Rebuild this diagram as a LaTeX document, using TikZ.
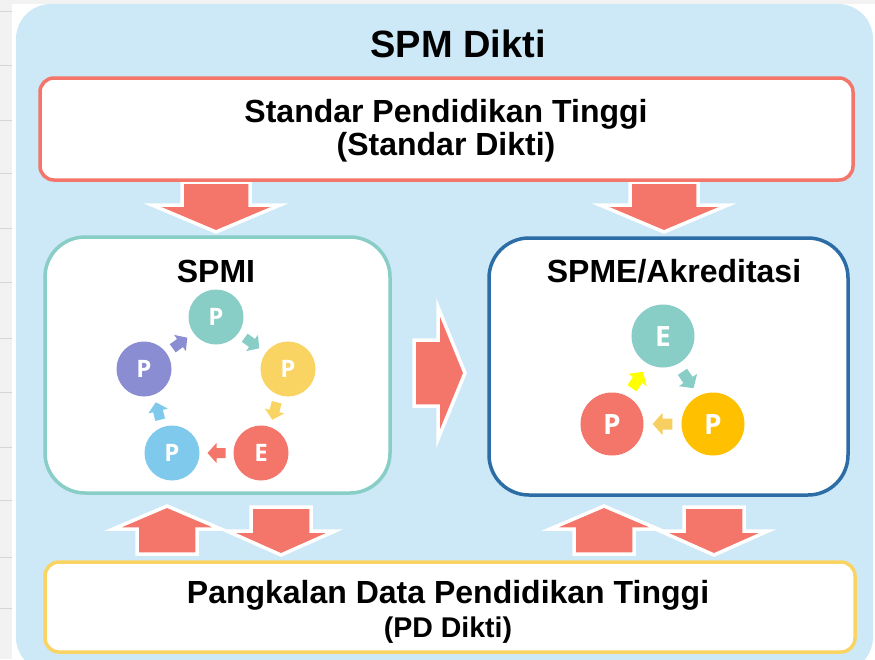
\documentclass[tikz,border=0pt]{standalone}
\usepackage{fontspec}
\setmainfont{Liberation Sans}
\newfontfamily\circfont{Open Sans}
\usetikzlibrary{calc}
\definecolor{salmon}{HTML}{F4756A}
\definecolor{tealc}{HTML}{88CDC6}
\definecolor{yellowc}{HTML}{F9D463}
\definecolor{lbluec}{HTML}{7FC9EC}
\definecolor{purplec}{HTML}{8A8DD1}
\definecolor{orangec}{HTML}{FFC000}
\definecolor{darkbluec}{HTML}{2D6DA6}
\definecolor{bgblue}{HTML}{CDE8F6}
\definecolor{lorangec}{HTML}{F7CF60}
\definecolor{brightyellow}{HTML}{FFFF00}
\definecolor{pagegray}{HTML}{F2F2F2}
\definecolor{stripgray}{HTML}{D6D6D6}
\begin{document}
\begin{tikzpicture}[x=1pt,y=-1pt,
  box/.style={rectangle, fill=white, line width=3.5, inner sep=0},
  maintext/.style={anchor=base, inner sep=0, font=\bfseries\fontsize{32}{38}\selectfont},
  titletext/.style={anchor=base, inner sep=0, font=\bfseries\fontsize{38}{44}\selectfont},
  subtext/.style={anchor=base, inner sep=0, font=\bfseries\fontsize{28.5}{34}\selectfont},
  circ/.style={circle, inner sep=0, minimum size=55, text=white, font=\circfont\bfseries\fontsize{24}{24}\selectfont},
  bigcirc/.style={circ, minimum size=63, font=\circfont\bfseries\fontsize{28}{28}\selectfont},
  barrow/.style={fill=salmon, draw=white, line width=3.5, line join=miter},
  stripline/.style={stripgray, line width=1},
  pics/barr/.style n args={4}{code={
    \draw[barrow] (0,-#2) -- ({#1-#4},-#2) -- ({#1-#4},-#3) -- (#1,0)
      -- ({#1-#4},#3) -- ({#1-#4},#2) -- (0,#2) -- cycle;}},
  pics/smarr/.style={code={
    \fill[#1] (-9,-5) -- (0,-5) -- (0,-10) -- (9,0) -- (0,10) -- (0,5) -- (-9,5) -- cycle;}}
]
\useasboundingbox (0,0) rectangle (875,659);
% page background
\fill[pagegray] (0,0) rectangle (875,659);
\fill[white] (12,4) rectangle (875,659);
\foreach \yy in {11,65,120,173,228,282,338,392,447,500,557,608}
  \draw[stripline] (0,\yy) -- (12,\yy);
\begin{scope}
  \clip (0,0) rectangle (875,659);
  \fill[bgblue, rounded corners=35] (16,4) rectangle (873,672);
\end{scope}

% big block arrows (drawn under the boxes)
\pic[rotate=-90] at (216,182) {barr={50}{34}{64}{27}};
\pic[rotate=-90] at (664,182) {barr={50}{34}{64}{27}};
\pic at (414,373) {barr={51}{33}{66}{27}};
\pic[rotate=90] at (167,554) {barr={48}{30}{54}{23}};
\pic[rotate=-90] at (281,507) {barr={48}{30}{54}{24}};
\pic[rotate=90] at (604,554) {barr={48}{30}{54}{23}};
\pic[rotate=-90] at (714,507) {barr={48}{30}{54}{24}};

% title
\node[titletext] (title) at (458,57) {SPM Dikti};

% Standar Dikti box
\node[box, draw=salmon, rounded corners=14, minimum width=813, minimum height=102] (std) at (446.5,129) {};
\node[maintext] (std1) at (446,122) {Standar Pendidikan Tinggi};
\node[maintext] (std2) at (446,155) {(Standar Dikti)};

% SPMI box
\node[box, draw=tealc, rounded corners=40, minimum width=345, minimum height=256] (spmi) at (217.5,365) {};
\node[maintext] (spmit) at (216,282) {SPMI};
\node[circ, fill=tealc] (a1) at (216,317) {P};
\node[circ, fill=yellowc] (a2) at (288,369) {P};
\node[circ, fill=salmon] (a3) at (261,453) {E};
\node[circ, fill=lbluec] (a4) at (172,453) {P};
\node[circ, fill=purplec] (a5) at (144,369) {P};
\pic[rotate=-36] at ($(a1)!0.5!(a2)$) {smarr=tealc};
\pic[rotate=-104] at ($(a2)!0.5!(a3)$) {smarr=yellowc};
\pic[rotate=180] at ($(a3)!0.5!(a4)$) {smarr=salmon};
\pic[rotate=104] at ($(a4)!0.5!(a5)$) {smarr=lbluec};
\pic[rotate=36] at ($(a5)!0.5!(a1)$) {smarr=purplec};

% SPME box
\node[box, draw=darkbluec, rounded corners=40, minimum width=359, minimum height=257] (spme) at (668.5,366.5) {};
\node[maintext] (spmet) at (674,282) {SPME/Akreditasi};
\node[bigcirc, fill=tealc] (b1) at (663,336) {E};
\node[bigcirc, fill=orangec] (b2) at (713,424) {P};
\node[bigcirc, fill=salmon] (b3) at (612,424) {P};
\pic[rotate=-56, scale=1.1] at ($(b1)!0.5!(b2)$) {smarr=tealc};
\pic[rotate=180, scale=1.1] at ($(b2)!0.5!(b3)$) {smarr=lorangec};
\pic[rotate=56, scale=1.1] at ($(b3)!0.5!(b1)$) {smarr=brightyellow};

% PD Dikti box
\node[box, draw=yellowc, rounded corners=14, minimum width=810, minimum height=90] (pd) at (450,607) {};
\node[maintext] (pd1) at (448,603) {Pangkalan Data Pendidikan Tinggi};
\node[subtext] (pd2) at (448,637) {(PD Dikti)};
\end{tikzpicture}
\end{document}
